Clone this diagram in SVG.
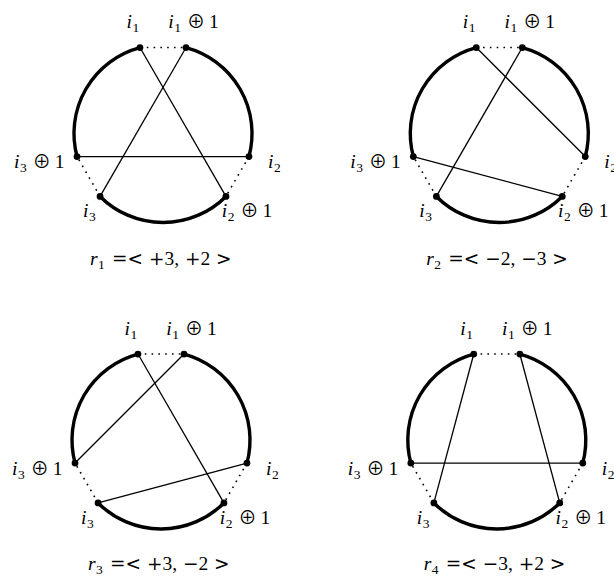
<svg xmlns="http://www.w3.org/2000/svg" width="614" height="581" viewBox="0 0 614 581">
<style>
text{font-family:"Liberation Serif","DejaVu Serif",serif;font-size:19.5px;fill:#000}
.it{font-style:italic}
.sub{font-size:13.5px}
.op{font-family:"Noto Sans CJK JP","DejaVu Sans",sans-serif;font-size:18px}
.sym{font-family:"DejaVu Serif",serif;font-size:18.5px}
.arc{fill:none;stroke:#000;stroke-width:3.4}
.chord{fill:none;stroke:#000;stroke-width:1.3}
.dot{fill:none;stroke:#000;stroke-width:1.6;stroke-dasharray:1.6 5.2}
.pt{fill:#000}
</style>
<rect width="614" height="581" fill="#fff"/>

<!-- Diagram 1 -->
<g id="diagram1" transform="translate(163,133.5)">
  <g id="d1-connectors">
    <path class="arc" d="M23.03,-85.97 A89,89 0 0 1 85.97,23.03"/>
    <path class="arc" d="M62.93,62.93 A89,89 0 0 1 -62.93,62.93"/>
    <path class="arc" d="M-85.97,23.03 A89,89 0 0 1 -23.03,-85.97"/>
    <line class="dot" x1="-23.03" y1="-85.97" x2="23.03" y2="-85.97"/>
    <line class="dot" x1="85.97" y1="23.03" x2="62.93" y2="62.93"/>
    <line class="dot" x1="-62.93" y1="62.93" x2="-85.97" y2="23.03"/>
    <line class="chord" x1="-23.03" y1="-85.97" x2="62.93" y2="62.93"/>
    <line class="chord" x1="23.03" y1="-85.97" x2="-62.93" y2="62.93"/>
    <line class="chord" x1="-85.97" y1="23.03" x2="85.97" y2="23.03"/>
  </g>
  <g id="d1-i1"><circle class="pt" cx="-23.03" cy="-85.97" r="3.4"/><text y="-105.5"><tspan class="it" x="-36.5">i</tspan><tspan class="sub" x="-30.5" dy="4">1</tspan></text></g>
  <g id="d1-i1p"><circle class="pt" cx="23.03" cy="-85.97" r="3.4"/><text y="-105.5"><tspan class="it" x="5.3">i</tspan><tspan class="sub" x="11.3" dy="4">1</tspan><tspan class="op" x="24" dy="-4">⊕</tspan><tspan x="46">1</tspan></text></g>
  <g id="d1-i2"><circle class="pt" cx="85.97" cy="23.03" r="3.4"/><text y="34.5"><tspan class="it" x="105">i</tspan><tspan class="sub" x="111" dy="4">2</tspan></text></g>
  <g id="d1-i2p"><circle class="pt" cx="62.93" cy="62.93" r="3.4"/><text y="83.5"><tspan class="it" x="58.7">i</tspan><tspan class="sub" x="64.7" dy="4">2</tspan><tspan class="op" x="77.4" dy="-4">⊕</tspan><tspan x="99.4">1</tspan></text></g>
  <g id="d1-i3"><circle class="pt" cx="-62.93" cy="62.93" r="3.4"/><text y="83.5"><tspan class="it" x="-80">i</tspan><tspan class="sub" x="-74" dy="4">3</tspan></text></g>
  <g id="d1-i3p"><circle class="pt" cx="-85.97" cy="23.03" r="3.4"/><text y="34.5"><tspan class="it" x="-149">i</tspan><tspan class="sub" x="-143" dy="4">3</tspan><tspan class="op" x="-130.3" dy="-4">⊕</tspan><tspan x="-108.3">1</tspan></text></g>
  <g id="d1-caption"><text y="131"><tspan class="it" x="-73">r</tspan><tspan class="sub" x="-65" dy="4">1</tspan><tspan class="sym" x="-51" dy="-4">=</tspan><tspan class="sym" x="-35.5">&lt;</tspan><tspan class="sym" x="-14">+</tspan><tspan x="1.5">3,</tspan><tspan class="sym" x="22">+</tspan><tspan x="37.5">2</tspan><tspan class="sym" x="53">&gt;</tspan></text></g>
</g>

<!-- Diagram 2 -->
<g id="diagram2" transform="translate(499.3,133.5)">
  <g id="d2-connectors">
    <path class="arc" d="M23.03,-85.97 A89,89 0 0 1 85.97,23.03"/>
    <path class="arc" d="M62.93,62.93 A89,89 0 0 1 -62.93,62.93"/>
    <path class="arc" d="M-85.97,23.03 A89,89 0 0 1 -23.03,-85.97"/>
    <line class="dot" x1="-23.03" y1="-85.97" x2="23.03" y2="-85.97"/>
    <line class="dot" x1="85.97" y1="23.03" x2="62.93" y2="62.93"/>
    <line class="dot" x1="-62.93" y1="62.93" x2="-85.97" y2="23.03"/>
    <line class="chord" x1="-23.03" y1="-85.97" x2="85.97" y2="23.03"/>
    <line class="chord" x1="23.03" y1="-85.97" x2="-62.93" y2="62.93"/>
    <line class="chord" x1="-85.97" y1="23.03" x2="62.93" y2="62.93"/>
  </g>
  <g id="d2-i1"><circle class="pt" cx="-23.03" cy="-85.97" r="3.4"/><text y="-105.5"><tspan class="it" x="-36.5">i</tspan><tspan class="sub" x="-30.5" dy="4">1</tspan></text></g>
  <g id="d2-i1p"><circle class="pt" cx="23.03" cy="-85.97" r="3.4"/><text y="-105.5"><tspan class="it" x="5.3">i</tspan><tspan class="sub" x="11.3" dy="4">1</tspan><tspan class="op" x="24" dy="-4">⊕</tspan><tspan x="46">1</tspan></text></g>
  <g id="d2-i2"><circle class="pt" cx="85.97" cy="23.03" r="3.4"/><text y="34.5"><tspan class="it" x="105">i</tspan><tspan class="sub" x="111" dy="4">2</tspan></text></g>
  <g id="d2-i2p"><circle class="pt" cx="62.93" cy="62.93" r="3.4"/><text y="83.5"><tspan class="it" x="58.7">i</tspan><tspan class="sub" x="64.7" dy="4">2</tspan><tspan class="op" x="77.4" dy="-4">⊕</tspan><tspan x="99.4">1</tspan></text></g>
  <g id="d2-i3"><circle class="pt" cx="-62.93" cy="62.93" r="3.4"/><text y="83.5"><tspan class="it" x="-80">i</tspan><tspan class="sub" x="-74" dy="4">3</tspan></text></g>
  <g id="d2-i3p"><circle class="pt" cx="-85.97" cy="23.03" r="3.4"/><text y="34.5"><tspan class="it" x="-149">i</tspan><tspan class="sub" x="-143" dy="4">3</tspan><tspan class="op" x="-130.3" dy="-4">⊕</tspan><tspan x="-108.3">1</tspan></text></g>
  <g id="d2-caption"><text y="131"><tspan class="it" x="-73">r</tspan><tspan class="sub" x="-65" dy="4">2</tspan><tspan class="sym" x="-51" dy="-4">=</tspan><tspan class="sym" x="-35.5">&lt;</tspan><tspan class="sym" x="-14">−</tspan><tspan x="1.5">2,</tspan><tspan class="sym" x="22">−</tspan><tspan x="37.5">3</tspan><tspan class="sym" x="53">&gt;</tspan></text></g>
</g>

<!-- Diagram 3 -->
<g id="diagram3" transform="translate(161,440)">
  <g id="d3-connectors">
    <path class="arc" d="M23.03,-85.97 A89,89 0 0 1 85.97,23.03"/>
    <path class="arc" d="M62.93,62.93 A89,89 0 0 1 -62.93,62.93"/>
    <path class="arc" d="M-85.97,23.03 A89,89 0 0 1 -23.03,-85.97"/>
    <line class="dot" x1="-23.03" y1="-85.97" x2="23.03" y2="-85.97"/>
    <line class="dot" x1="85.97" y1="23.03" x2="62.93" y2="62.93"/>
    <line class="dot" x1="-62.93" y1="62.93" x2="-85.97" y2="23.03"/>
    <line class="chord" x1="-23.03" y1="-85.97" x2="62.93" y2="62.93"/>
    <line class="chord" x1="23.03" y1="-85.97" x2="-85.97" y2="23.03"/>
    <line class="chord" x1="-62.93" y1="62.93" x2="85.97" y2="23.03"/>
  </g>
  <g id="d3-i1"><circle class="pt" cx="-23.03" cy="-85.97" r="3.4"/><text y="-105.5"><tspan class="it" x="-36.5">i</tspan><tspan class="sub" x="-30.5" dy="4">1</tspan></text></g>
  <g id="d3-i1p"><circle class="pt" cx="23.03" cy="-85.97" r="3.4"/><text y="-105.5"><tspan class="it" x="5.3">i</tspan><tspan class="sub" x="11.3" dy="4">1</tspan><tspan class="op" x="24" dy="-4">⊕</tspan><tspan x="46">1</tspan></text></g>
  <g id="d3-i2"><circle class="pt" cx="85.97" cy="23.03" r="3.4"/><text y="34.5"><tspan class="it" x="105">i</tspan><tspan class="sub" x="111" dy="4">2</tspan></text></g>
  <g id="d3-i2p"><circle class="pt" cx="62.93" cy="62.93" r="3.4"/><text y="83.5"><tspan class="it" x="58.7">i</tspan><tspan class="sub" x="64.7" dy="4">2</tspan><tspan class="op" x="77.4" dy="-4">⊕</tspan><tspan x="99.4">1</tspan></text></g>
  <g id="d3-i3"><circle class="pt" cx="-62.93" cy="62.93" r="3.4"/><text y="83.5"><tspan class="it" x="-80">i</tspan><tspan class="sub" x="-74" dy="4">3</tspan></text></g>
  <g id="d3-i3p"><circle class="pt" cx="-85.97" cy="23.03" r="3.4"/><text y="34.5"><tspan class="it" x="-149">i</tspan><tspan class="sub" x="-143" dy="4">3</tspan><tspan class="op" x="-130.3" dy="-4">⊕</tspan><tspan x="-108.3">1</tspan></text></g>
  <g id="d3-caption"><text y="130"><tspan class="it" x="-73">r</tspan><tspan class="sub" x="-65" dy="4">3</tspan><tspan class="sym" x="-51" dy="-4">=</tspan><tspan class="sym" x="-35.5">&lt;</tspan><tspan class="sym" x="-14">+</tspan><tspan x="1.5">3,</tspan><tspan class="sym" x="22">−</tspan><tspan x="37.5">2</tspan><tspan class="sym" x="53">&gt;</tspan></text></g>
</g>

<!-- Diagram 4 -->
<g id="diagram4" transform="translate(496.8,440)">
  <g id="d4-connectors">
    <path class="arc" d="M23.03,-85.97 A89,89 0 0 1 85.97,23.03"/>
    <path class="arc" d="M62.93,62.93 A89,89 0 0 1 -62.93,62.93"/>
    <path class="arc" d="M-85.97,23.03 A89,89 0 0 1 -23.03,-85.97"/>
    <line class="dot" x1="-23.03" y1="-85.97" x2="23.03" y2="-85.97"/>
    <line class="dot" x1="85.97" y1="23.03" x2="62.93" y2="62.93"/>
    <line class="dot" x1="-62.93" y1="62.93" x2="-85.97" y2="23.03"/>
    <line class="chord" x1="-23.03" y1="-85.97" x2="-62.93" y2="62.93"/>
    <line class="chord" x1="23.03" y1="-85.97" x2="62.93" y2="62.93"/>
    <line class="chord" x1="-85.97" y1="23.03" x2="85.97" y2="23.03"/>
  </g>
  <g id="d4-i1"><circle class="pt" cx="-23.03" cy="-85.97" r="3.4"/><text y="-105.5"><tspan class="it" x="-36.5">i</tspan><tspan class="sub" x="-30.5" dy="4">1</tspan></text></g>
  <g id="d4-i1p"><circle class="pt" cx="23.03" cy="-85.97" r="3.4"/><text y="-105.5"><tspan class="it" x="5.3">i</tspan><tspan class="sub" x="11.3" dy="4">1</tspan><tspan class="op" x="24" dy="-4">⊕</tspan><tspan x="46">1</tspan></text></g>
  <g id="d4-i2"><circle class="pt" cx="85.97" cy="23.03" r="3.4"/><text y="34.5"><tspan class="it" x="105">i</tspan><tspan class="sub" x="111" dy="4">2</tspan></text></g>
  <g id="d4-i2p"><circle class="pt" cx="62.93" cy="62.93" r="3.4"/><text y="83.5"><tspan class="it" x="58.7">i</tspan><tspan class="sub" x="64.7" dy="4">2</tspan><tspan class="op" x="77.4" dy="-4">⊕</tspan><tspan x="99.4">1</tspan></text></g>
  <g id="d4-i3"><circle class="pt" cx="-62.93" cy="62.93" r="3.4"/><text y="83.5"><tspan class="it" x="-80">i</tspan><tspan class="sub" x="-74" dy="4">3</tspan></text></g>
  <g id="d4-i3p"><circle class="pt" cx="-85.97" cy="23.03" r="3.4"/><text y="34.5"><tspan class="it" x="-149">i</tspan><tspan class="sub" x="-143" dy="4">3</tspan><tspan class="op" x="-130.3" dy="-4">⊕</tspan><tspan x="-108.3">1</tspan></text></g>
  <g id="d4-caption"><text y="130"><tspan class="it" x="-73">r</tspan><tspan class="sub" x="-65" dy="4">4</tspan><tspan class="sym" x="-51" dy="-4">=</tspan><tspan class="sym" x="-35.5">&lt;</tspan><tspan class="sym" x="-14">−</tspan><tspan x="1.5">3,</tspan><tspan class="sym" x="22">+</tspan><tspan x="37.5">2</tspan><tspan class="sym" x="53">&gt;</tspan></text></g>
</g>
</svg>
